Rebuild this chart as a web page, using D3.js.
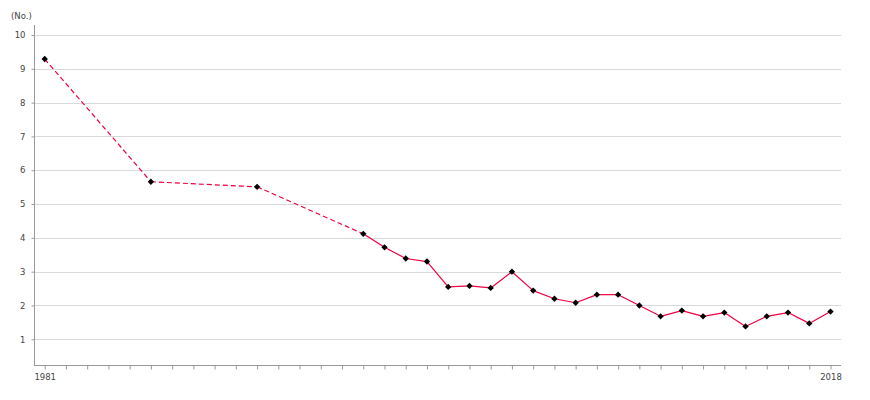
<!DOCTYPE html>
<meta charset="utf-8">
<script src="https://d3js.org/d3.v7.min.js"></script>
<style>
  body { margin: 0; background: #fff; }
  text { font-family: "DejaVu Sans", sans-serif; }
</style>
<div id="my_dataviz"></div>
<script>

// data
var years  = [1981, 1986, 1991, 1996, 1997, 1998, 1999, 2000, 2001, 2002, 2003, 2004, 2005, 2006,
              2007, 2008, 2009, 2010, 2011, 2012, 2013, 2014, 2015, 2016, 2017, 2018];
var values = [9.29, 5.66, 5.51, 4.12, 3.72, 3.39, 3.30, 2.55, 2.58, 2.52, 3.00, 2.44, 2.20, 2.08,
              2.32, 2.32, 2.00, 1.68, 1.85, 1.68, 1.79, 1.38, 1.68, 1.79, 1.47, 1.82];
var yTicks = [1, 2, 3, 4, 5, 6, 7, 8, 9, 10];
var xLabels = [1981, 2018];
var unitLabel = "(No.)";

var width = 870, height = 400;

var svg = d3.select("#my_dataviz")
  .append("svg")
    .attr("width", width)
    .attr("height", height);

var x = d3.scaleLinear()
  .domain([1981, 2018])
  .range([44.7, 830.5]);

var y = d3.scaleLinear()
  .domain([1, 10])
  .range([339.3, 35]);

var plotLeft = 34, plotRight = 841, plotTop = 25, plotBottom = 365.5;

// gridlines
svg.append("g")
  .selectAll("line")
  .data(yTicks)
  .enter()
  .append("line")
    .attr("x1", plotLeft)
    .attr("x2", plotRight)
    .attr("y1", function(d) { return Math.round(y(d)) + 0.5; })
    .attr("y2", function(d) { return Math.round(y(d)) + 0.5; })
    .style("stroke", "#d9d9d9")
    .style("stroke-width", 1);

// y axis
var yAxis = svg.append("g")
  .attr("transform", "translate(" + (plotLeft + 0.5) + ",0)")
  .call(d3.axisLeft(y).tickValues(yTicks).tickSize(3).tickPadding(6).tickFormat(d3.format("d")));
yAxis.select(".domain").attr("d", "M0," + plotTop + "V" + plotBottom);

// x axis
var allYears = d3.range(1981, 2019);
var xAxis = svg.append("g")
  .attr("transform", "translate(0," + (plotBottom) + ")")
  .call(d3.axisBottom(x).tickValues(allYears).tickSize(4).tickPadding(4)
    .tickFormat(function(d) { return xLabels.indexOf(d) >= 0 ? d : ""; }));
xAxis.select(".domain").attr("d", "M" + plotLeft + ",0H" + plotRight);

svg.selectAll(".domain, .tick line").style("stroke", "#999").style("stroke-width", 1);
svg.selectAll(".tick text").style("fill", "#444").style("font-size", "8.5px")
  .style("font-family", "'DejaVu Sans', sans-serif");

// unit label
svg.append("text")
  .attr("x", 11)
  .attr("y", 19)
  .style("font-size", "8.5px")
  .style("fill", "#444")
  .text(unitLabel);

var data = years.map(function(d, i) { return { year: d, value: values[i] }; });

// dashed where years are missing, solid where consecutive
var segs = [];
for (var i = 1; i < data.length; i++) {
  segs.push({ a: data[i - 1], b: data[i], gap: data[i].year - data[i - 1].year > 1 });
}

svg.append("g")
  .selectAll("line")
  .data(segs)
  .enter()
  .append("line")
    .attr("x1", function(d) { return x(d.a.year); })
    .attr("y1", function(d) { return y(d.a.value); })
    .attr("x2", function(d) { return x(d.b.year); })
    .attr("y2", function(d) { return y(d.b.value); })
    .style("stroke", "#ee0040")
    .style("stroke-width", 1.2)
    .style("stroke-dasharray", function(d) { return d.gap ? "5,3" : null; });

// markers: small square turned 45 degrees
svg.append("g")
  .selectAll("path")
  .data(data)
  .enter()
  .append("path")
    .attr("transform", function(d) { return "translate(" + x(d.year) + "," + y(d.value) + ") rotate(45)"; })
    .attr("d", d3.symbol().type(d3.symbolSquare).size(20))
    .style("fill", "#000");

</script>
